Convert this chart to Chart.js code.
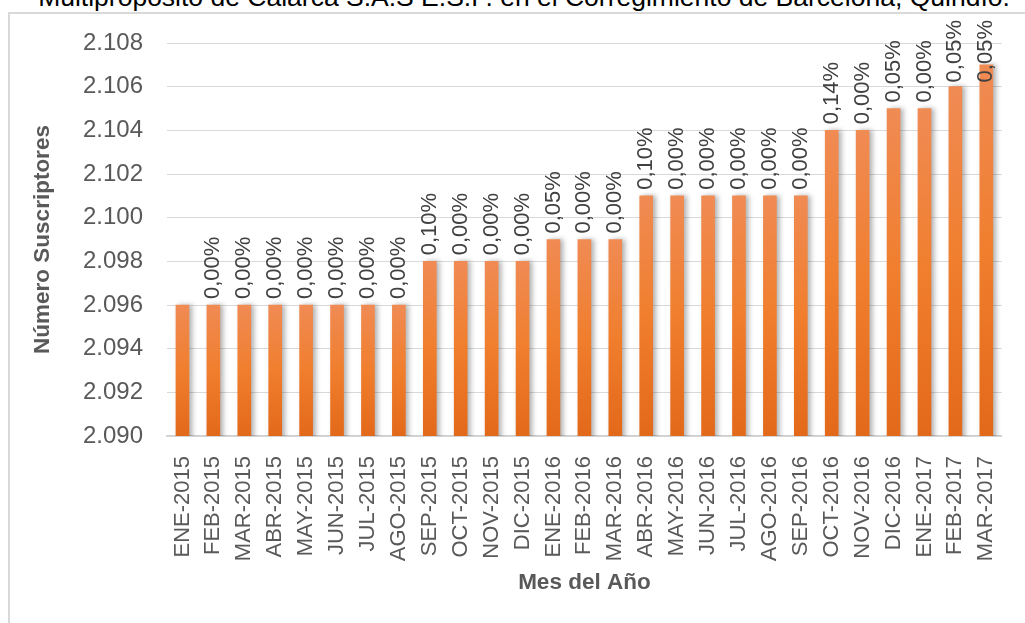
<!DOCTYPE html>
<html>
<head>
<meta charset="utf-8">
<script src="https://cdn.jsdelivr.net/npm/chart.js@4"></script>
<style>
  html, body { margin: 0; padding: 0; background: #fff; overflow: hidden; }
  #wrap { position: relative; width: 1025px; height: 623px; }
  #titulo { position: absolute; left: 0; top: -16px; width: 1048px; text-align: center;
            font: 26.5px "Liberation Sans", Arial, sans-serif; line-height: 26.5px; white-space: nowrap; color: #000; }
  #marco { position: absolute; left: 8px; top: 12px; width: 1030px; height: 620px;
           border-left: 2px solid #d9d9d9; border-top: 2px solid #d9d9d9; }
  #caja { position: absolute; left: 0; top: 0; width: 1025px; height: 623px; }
</style>
</head>
<body>
<div id="wrap">
  <div id="titulo">Multipropósito de Calarca S.A.S E.S.P. en el Corregimiento de Barcelona, Quindío.</div>
  <div id="marco"></div>
  <div id="caja"><canvas id="grafico"></canvas></div>
</div>
<script>
// Datos
var meses = ['ENE-2015','FEB-2015','MAR-2015','ABR-2015','MAY-2015','JUN-2015','JUL-2015','AGO-2015',
  'SEP-2015','OCT-2015','NOV-2015','DIC-2015','ENE-2016','FEB-2016','MAR-2016','ABR-2016','MAY-2016',
  'JUN-2016','JUL-2016','AGO-2016','SEP-2016','OCT-2016','NOV-2016','DIC-2016','ENE-2017','FEB-2017','MAR-2017'];
var suscriptores = [2096,2096,2096,2096,2096,2096,2096,2096,
  2098,2098,2098,2098,2099,2099,2099,2101,2101,
  2101,2101,2101,2101,2104,2104,2105,2105,2106,2107];
var variaciones = ['','0,00%','0,00%','0,00%','0,00%','0,00%','0,00%','0,00%',
  '0,10%','0,00%','0,00%','0,00%','0,05%','0,00%','0,00%','0,10%','0,00%',
  '0,00%','0,00%','0,00%','0,00%','0,14%','0,00%','0,05%','0,00%','0,05%','0,05%'];
var ejeYMin = 2090;
var ejeYMax = 2108;
var ejeYPaso = 2;

var fuente = '"Liberation Sans", Arial, sans-serif';

// sombra suave detrás de las barras
var sombraPlugin = {
  id: 'sombra',
  beforeDatasetDraw: function(chart) {
    var ctx = chart.ctx;
    ctx.save();
    ctx.shadowColor = 'rgba(0,0,0,0.3)';
    ctx.shadowBlur = 5;
    ctx.shadowOffsetX = 3;
    ctx.shadowOffsetY = 0;
  },
  afterDatasetDraw: function(chart) {
    chart.ctx.restore();
  }
};

// etiquetas de variación giradas encima de cada barra
var etiquetasPlugin = {
  id: 'etiquetas',
  afterDatasetsDraw: function(chart) {
    var ctx = chart.ctx;
    var meta = chart.getDatasetMeta(0);
    ctx.save();
    ctx.font = '22px ' + fuente;
    ctx.fillStyle = '#404040';
    ctx.textAlign = 'left';
    ctx.textBaseline = 'middle';
    meta.data.forEach(function(bar, i) {
      var texto = variaciones[i];
      if (!texto) return;
      var w = ctx.measureText(texto).width;
      var base = bar.y - 6;
      if (base - w < 20) base = 20 + w;
      ctx.save();
      ctx.translate(bar.x, base);
      ctx.rotate(-Math.PI / 2);
      ctx.fillText(texto, 0, 0);
      ctx.restore();
    });
    ctx.restore();
  }
};

var ctx = document.getElementById('grafico').getContext('2d');
var grafico = new Chart(ctx, {
  type: 'bar',
  data: {
    labels: meses,
    datasets: [{
      data: suscriptores,
      backgroundColor: function(c) {
        var chart = c.chart, area = chart.chartArea;
        if (!area || c.type !== 'data') return '#F07E2E';
        var y = chart.scales.y.getPixelForValue(c.raw);
        var g = chart.ctx.createLinearGradient(0, y, 0, area.bottom);
        g.addColorStop(0, '#F08B54');
        g.addColorStop(0.5, '#F07E2D');
        g.addColorStop(1, '#E3691A');
        return g;
      },
      borderWidth: 0,
      barThickness: 13,
      categoryPercentage: 1,
      barPercentage: 0.45
    }]
  },
  options: {
    responsive: true,
    maintainAspectRatio: false,
    animation: false,
    events: [],
    layout: { padding: { top: 43, right: 15, left: 0, bottom: 0 } },
    plugins: {
      legend: { display: false },
      tooltip: { enabled: false }
    },
    scales: {
      x: {
        grid: { display: false },
        border: { display: true, color: '#d0d0d0', width: 1.5 },
        ticks: {
          color: '#595959',
          font: { family: fuente, size: 22 },
          maxRotation: 90,
          minRotation: 90,
          autoSkip: false,
          padding: 12
        },
        title: {
          display: true,
          text: 'Mes del Año',
          color: '#595959',
          font: { family: fuente, size: 22.5, weight: 'bold' },
          padding: { top: 0, bottom: 26.5 }
        },
        afterFit: function(scale) { scale.height = 187; }
      },
      y: {
        min: ejeYMin,
        max: ejeYMax,
        grid: { color: '#d9d9d9', lineWidth: 1, drawTicks: false },
        border: { display: false },
        ticks: {
          stepSize: ejeYPaso,
          color: '#595959',
          font: { family: fuente, size: 24 },
          padding: 24,
          callback: function(v) { return (v / 1000).toFixed(3); }
        },
        title: {
          display: true,
          text: 'Número Suscriptores',
          color: '#595959',
          font: { family: fuente, size: 22.5, weight: 'bold' },
          padding: { top: 29.5, bottom: 0 }
        },
        afterFit: function(scale) { scale.width = 167; }
      }
    }
  },
  plugins: [sombraPlugin, etiquetasPlugin]
});
</script>
</body>
</html>
